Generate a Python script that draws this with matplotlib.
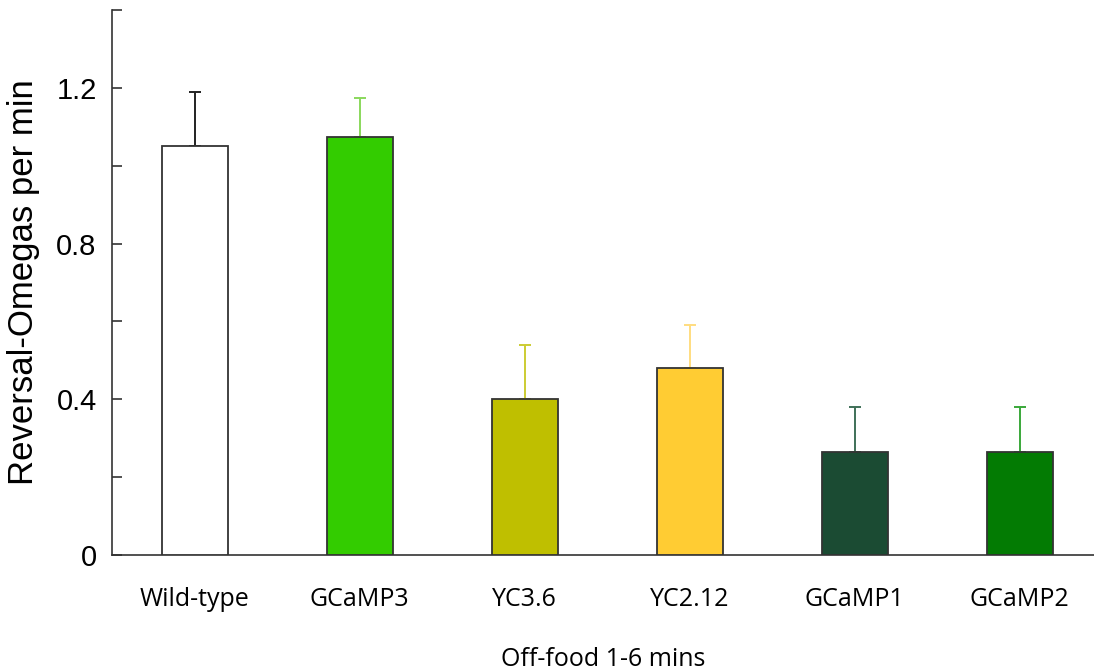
import matplotlib.pyplot as plt
import numpy as np

# reversal-omega rates off food (1-6 min), mean and upper error
strains = ['Wild-type', 'GCaMP3', 'YC3.6', 'YC2.12', 'GCaMP1', 'GCaMP2']
means = [1.05, 1.075, 0.40, 0.48, 0.265, 0.265]
errors = [0.14, 0.10, 0.14, 0.11, 0.115, 0.115]

bar_colors = ['#ffffff', '#33cc00', '#bfbf00', '#ffcc33', '#1b4b33', '#037b03']
err_colors = ['#222222', '#8ad85c', '#cccc33', '#ffdd80', '#3f7058', '#3aa83a']

fig = plt.figure(figsize=(10.94, 6.72), dpi=100)
ax = fig.add_axes([112 / 1094, 1 - 555 / 672, (1094 - 112) / 1094, (555 - 10) / 672])

x = np.arange(len(strains))
ax.bar(x, means, width=0.4, color=bar_colors, edgecolor='#333333', linewidth=1.3, zorder=3)
for xi, m, e, c in zip(x, means, errors, err_colors):
    ax.errorbar(xi, m, yerr=[[0], [e]], fmt='none', ecolor=c, elinewidth=1.4,
                capsize=4.5, capthick=1.4, zorder=2)

ax.set_xlim(-0.5, 5.45)
ax.set_ylim(0, 1.4)

yt = np.arange(0, 1.41, 0.2)
ax.set_yticks(yt)
ax.set_yticklabels(['0', '', '0.4', '', '0.8', '', '1.2', ''],
                   fontfamily='Liberation Sans', fontsize=21)
ax.tick_params(axis='y', direction='in', length=7, width=1.2, color='#333333', pad=11)

ax.set_xticks(x)
ax.set_xticklabels(strains, fontfamily='Open Sans', fontsize=18)
ax.tick_params(axis='x', length=0, pad=23)

for side in ['top', 'right']:
    ax.spines[side].set_visible(False)
for side in ['left', 'bottom']:
    ax.spines[side].set_linewidth(1.2)
    ax.spines[side].set_color('#333333')

ax.set_ylabel('Reversal-Omegas per min', fontfamily='Liberation Sans', fontsize=25, labelpad=12)
ax.set_xlabel('Off-food 1-6 mins', fontfamily='Open Sans', fontsize=18, labelpad=25)

fig.savefig('out.png', dpi=100)
